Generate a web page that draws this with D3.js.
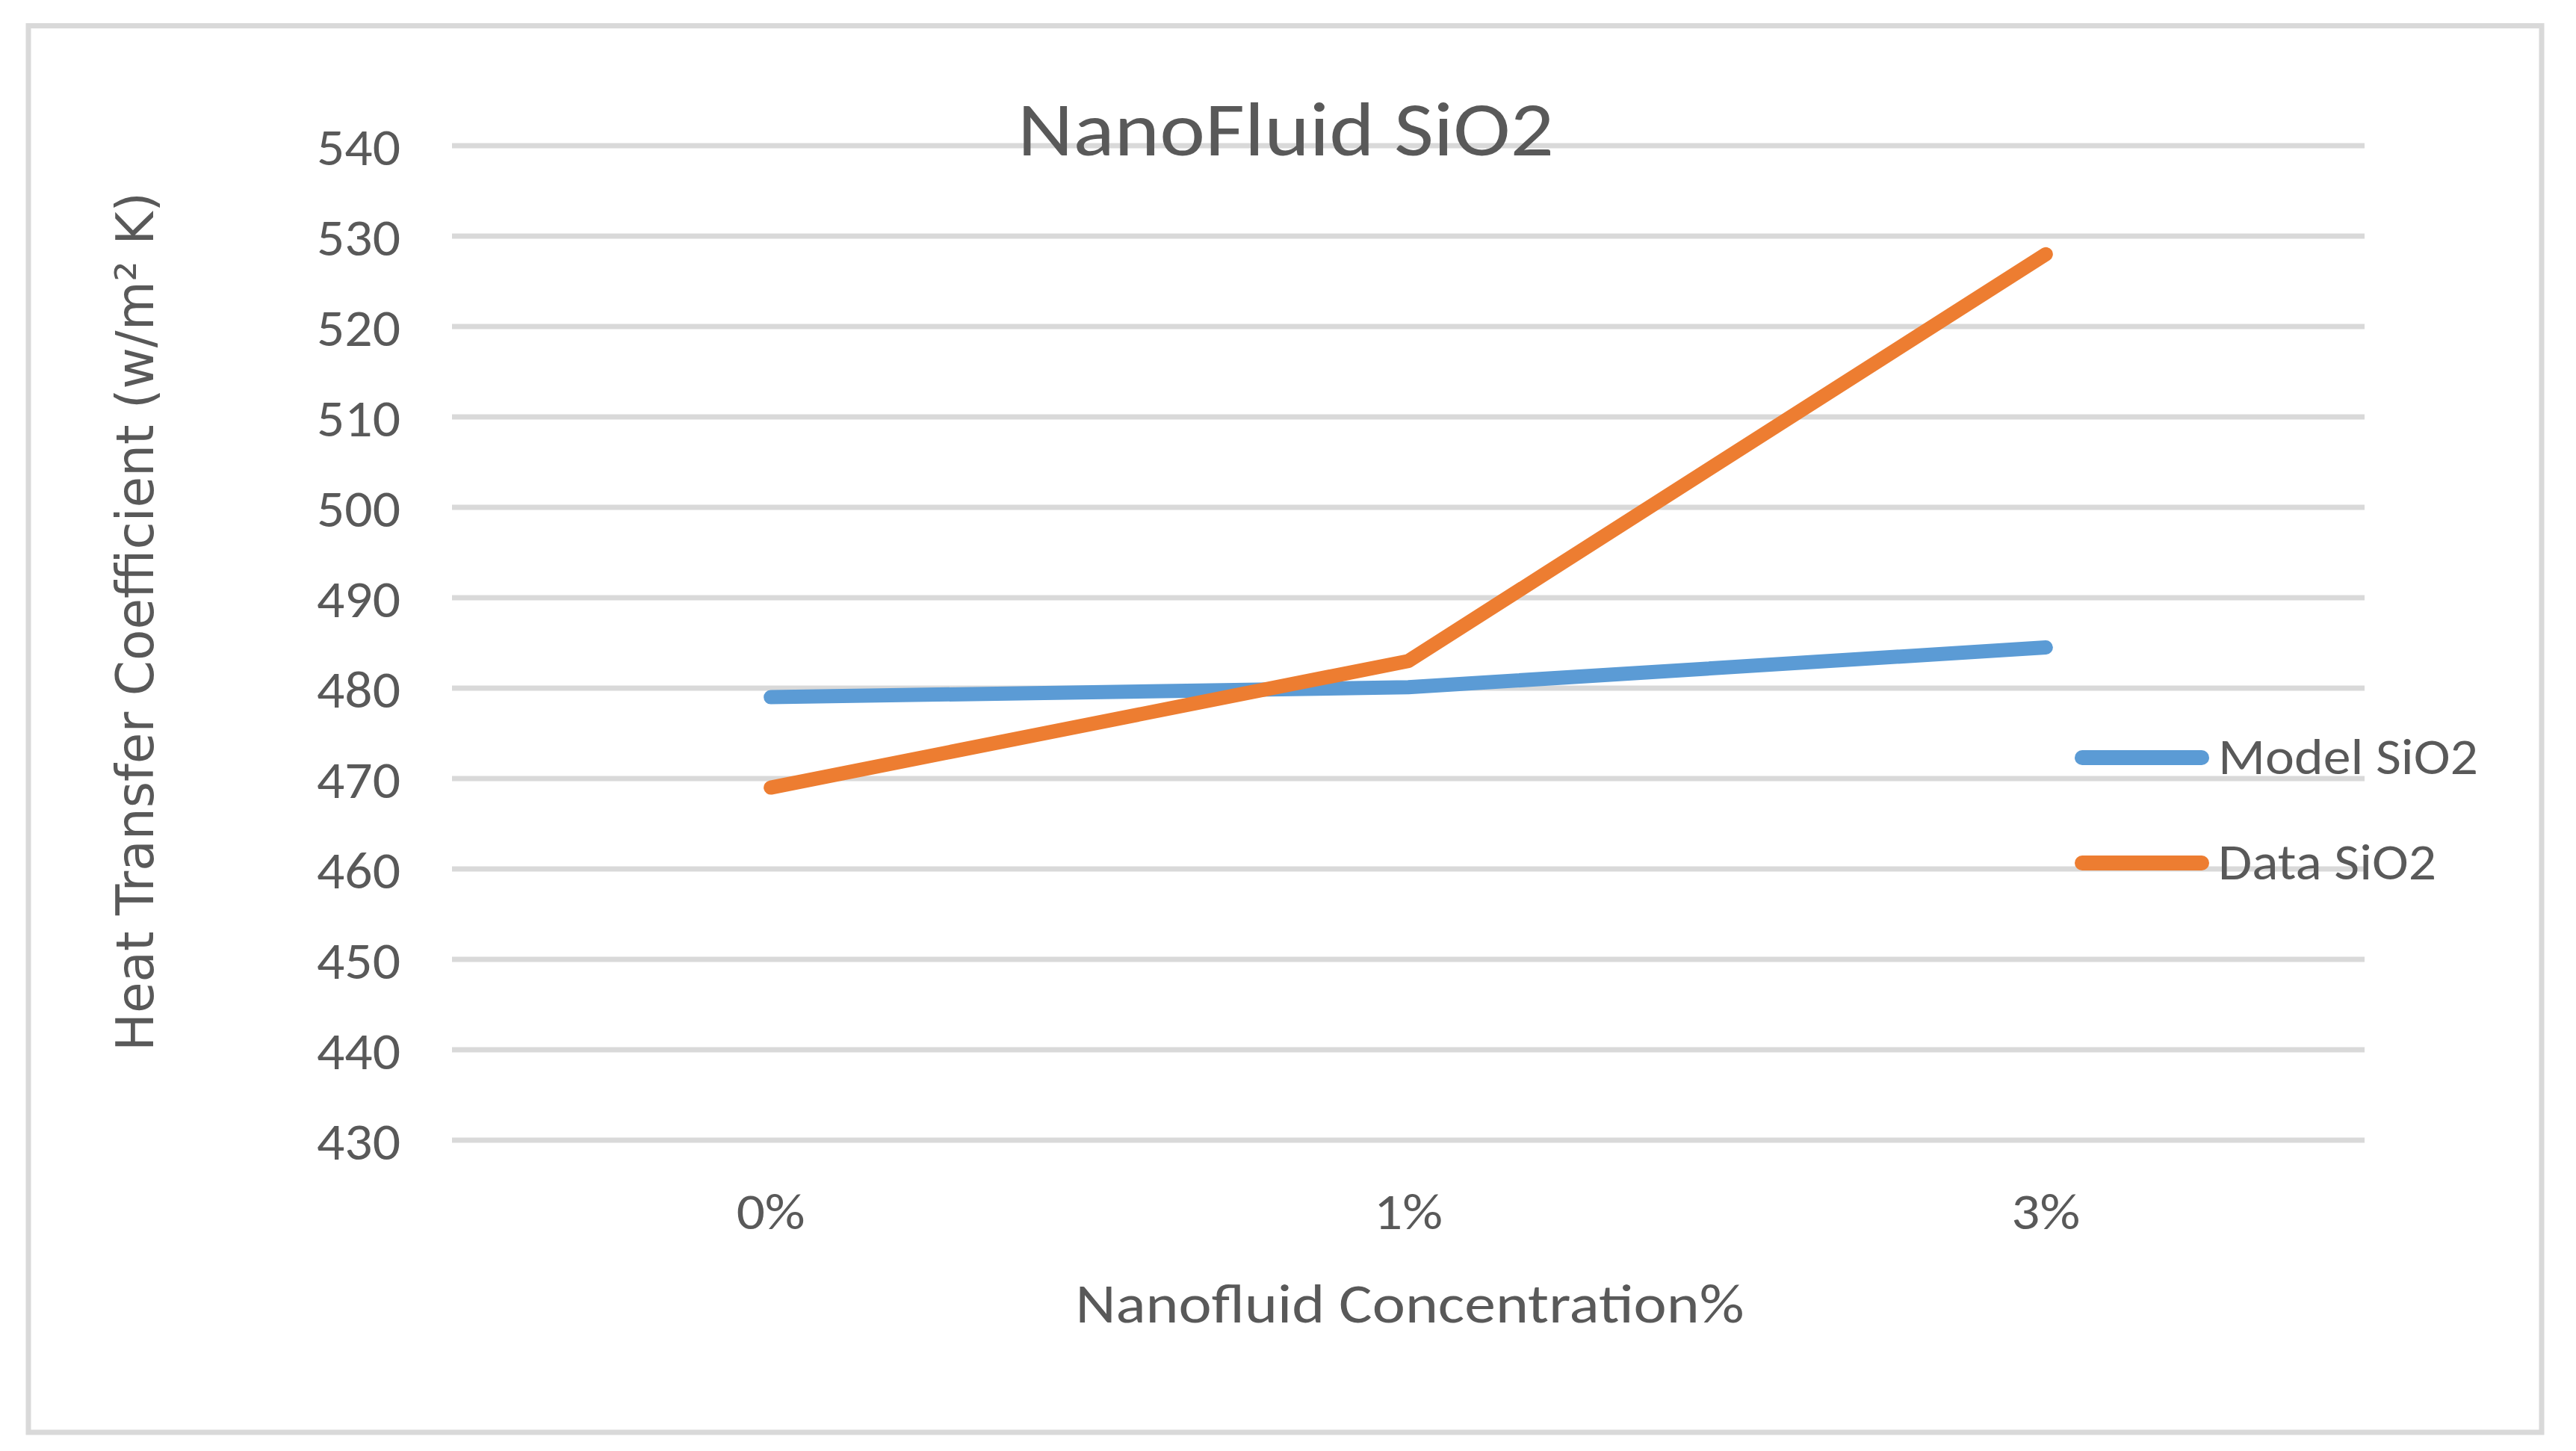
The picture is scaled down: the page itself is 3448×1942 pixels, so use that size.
<!DOCTYPE html>
<html>
<head>
<meta charset="utf-8">
<script src="https://cdn.jsdelivr.net/npm/d3@7"></script>
<style>
  body { margin: 0; background: #fff; }
</style>
</head>
<body>
<script>
// Chart data
const categories = ['0%', '1%', '3%'];
const modelSiO2 = [479, 480.1, 484.5];
const dataSiO2 = [469, 483, 528];
const yTicks = [430, 440, 450, 460, 470, 480, 490, 500, 510, 520, 530, 540];
const seriesNames = ['Model SiO2', 'Data SiO2'];

const [w, h] = [3448, 1942];
const textColor = '#595959';
const gridColor = '#d9d9d9';
const colors = ['#5b9bd5', '#ed7d31'];
const mainFont = 'Carlito, Calibri, Lato, sans-serif';

const svg = d3.select('body')
    .append('svg')
    .attr('width', w)
    .attr('height', h);

svg.append('rect')
    .attr('width', w)
    .attr('height', h)
    .attr('fill', '#fff');

// Chart border
svg.append('rect')
    .attr('x', 38)
    .attr('y', 34.5)
    .attr('width', 3364)
    .attr('height', 1882.5)
    .attr('fill', 'none')
    .attr('stroke', gridColor)
    .attr('stroke-width', 7);

// Scales
const xScale = d3.scaleBand()
    .domain(categories)
    .range([605, 3165]);

const yScale = d3.scaleLinear()
    .domain([430, 540])
    .range([1526, 195]);

// Gridlines
svg.append('g')
    .selectAll('line')
    .data(yTicks)
    .enter()
    .append('line')
    .attr('x1', 605)
    .attr('x2', 3165)
    .attr('y1', d => yScale(d))
    .attr('y2', d => yScale(d))
    .attr('stroke', gridColor)
    .attr('stroke-width', 7);

// Y axis labels
const yAxis = d3.axisLeft(yScale)
    .tickValues(yTicks)
    .tickSize(0)
    .tickPadding(0);

const yAxisG = svg.append('g')
    .attr('transform', 'translate(536, 0)')
    .call(yAxis);
yAxisG.select('.domain').remove();
yAxisG.selectAll('text')
    .attr('font-family', mainFont)
    .attr('font-size', 69)
    .attr('fill', textColor)
    .attr('dy', 25)
    .attr('textLength', 112)
    .attr('lengthAdjust', 'spacingAndGlyphs');

// X axis labels
const xAxis = d3.axisBottom(xScale)
    .tickSize(0)
    .tickPadding(0);

const xAxisG = svg.append('g')
    .attr('transform', 'translate(0, 1645)')
    .call(xAxis);
xAxisG.select('.domain').remove();
xAxisG.selectAll('text')
    .attr('font-family', mainFont)
    .attr('font-size', 68)
    .attr('fill', textColor)
    .attr('dy', 0)
    .attr('textLength', 92)
    .attr('lengthAdjust', 'spacingAndGlyphs');

// Lines
const line = d3.line()
    .x((d, i) => xScale(categories[i]) + xScale.bandwidth() / 2)
    .y(d => yScale(d));

[modelSiO2, dataSiO2].forEach((series, i) => {
    svg.append('path')
        .datum(series)
        .attr('d', line)
        .attr('fill', 'none')
        .attr('stroke', colors[i])
        .attr('stroke-width', 19)
        .attr('stroke-linecap', 'round')
        .attr('stroke-linejoin', 'round');
});

// Title
svg.append('text')
    .attr('x', 1721)
    .attr('y', 208)
    .attr('text-anchor', 'middle')
    .attr('font-family', mainFont)
    .attr('font-size', 102)
    .attr('fill', textColor)
    .attr('textLength', 718)
    .attr('lengthAdjust', 'spacingAndGlyphs')
    .text('NanoFluid SiO2');

// X axis title
svg.append('text')
    .attr('x', 1887)
    .attr('y', 1770)
    .attr('text-anchor', 'middle')
    .attr('font-family', mainFont)
    .attr('font-size', 73)
    .attr('fill', textColor)
    .attr('textLength', 895)
    .attr('lengthAdjust', 'spacingAndGlyphs')
    .text('Nanofluid Concentration%');

// Y axis title
svg.append('text')
    .attr('transform', 'translate(205, 832) rotate(-90)')
    .attr('text-anchor', 'middle')
    .attr('font-family', 'DejaVu Sans, sans-serif')
    .attr('font-size', 70)
    .attr('fill', textColor)
    .attr('textLength', 1150)
    .attr('lengthAdjust', 'spacingAndGlyphs')
    .text('Heat Transfer Coefficient (w/m² K)');

// Legend
const legend = svg.append('g');
const legendY = [1014, 1155];
const legendWidths = [348, 292];

seriesNames.forEach((name, i) => {
    legend.append('line')
        .attr('x1', 2787)
        .attr('x2', 2947)
        .attr('y1', legendY[i])
        .attr('y2', legendY[i])
        .attr('stroke', colors[i])
        .attr('stroke-width', 20)
        .attr('stroke-linecap', 'round');

    legend.append('text')
        .attr('x', 2969)
        .attr('y', legendY[i] + 22)
        .attr('font-family', mainFont)
        .attr('font-size', 67)
        .attr('fill', textColor)
        .attr('textLength', legendWidths[i])
        .attr('lengthAdjust', 'spacingAndGlyphs')
        .text(name);
});
</script>
</body>
</html>
